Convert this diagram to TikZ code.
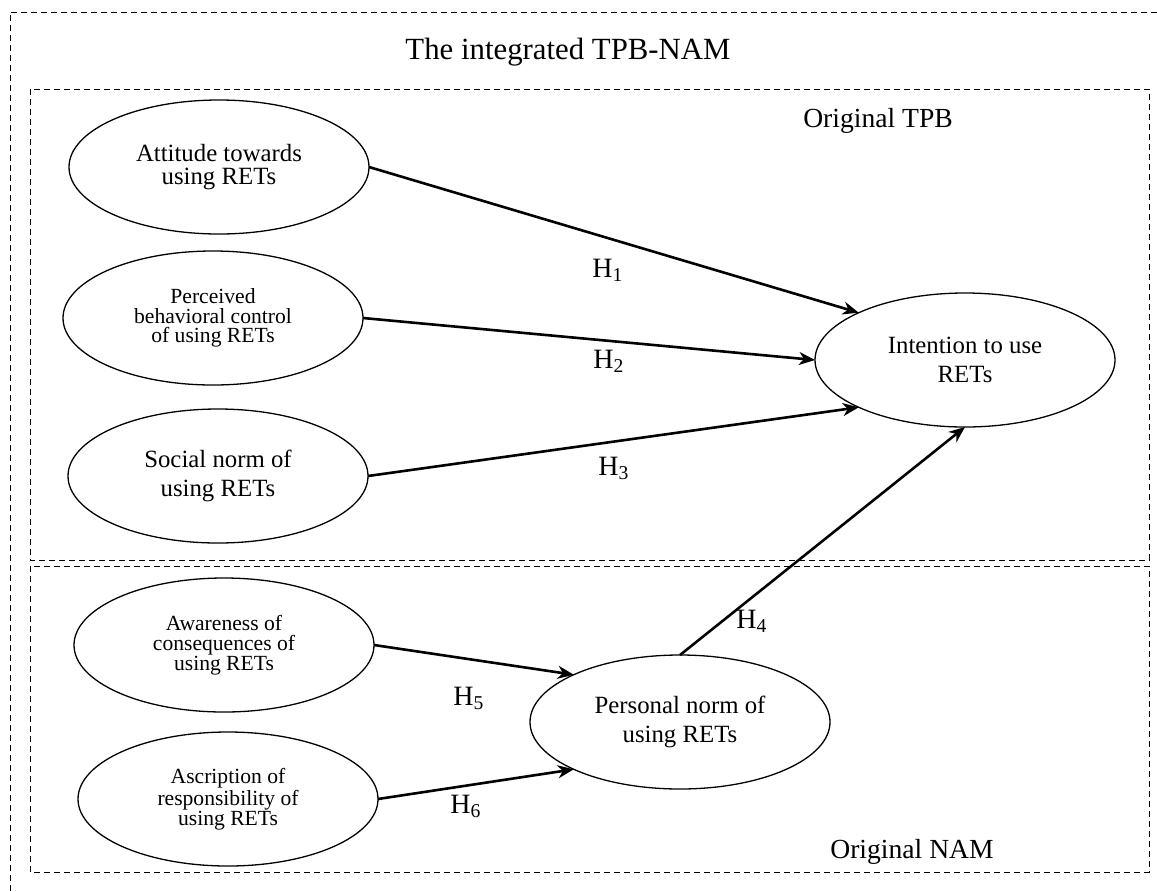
\documentclass[tikz,border=0pt]{standalone}
\usepackage{fontspec}
\setmainfont{Liberation Serif}
\usetikzlibrary{shapes.geometric,arrows.meta}

\begin{document}
\begin{tikzpicture}[x=0.5pt,y=-0.5pt,
  every node/.style={inner sep=0pt},
  box/.style={dash pattern=on 3pt off 2pt,line width=0.5pt},
  bubble/.style={draw,ellipse,line width=0.65pt,minimum width=150pt,minimum height=67pt,
    align=center,outer sep=0pt,font=\fontsize{12.4}{14.2}\selectfont},
  small/.style={font=\fontsize{10.8}{9.9}\selectfont},
  link/.style={line width=1.3pt,-{Stealth[length=8pt,width=6.5pt,inset=2.5pt]}},
  hyp/.style={font=\fontsize{14}{14}\selectfont,anchor=base},
  heading/.style={font=\fontsize{13.8}{14}\selectfont,anchor=base}]
\useasboundingbox (0,0) rectangle (1157,891);
% frames
\draw[box] (1157,12) -- (10,12) -- (10,891);
\draw[box] (30,89) rectangle (1149,560);
\draw[box] (30,566) rectangle (1149,872);
\node[font=\fontsize{15.4}{16}\selectfont,anchor=base] (title) at (568,59) {The integrated TPB-NAM};
\node[heading] (tpb) at (878,127) {Original TPB};
\node[heading] (nam) at (912,858) {Original NAM};
% constructs
\node[bubble,font=\fontsize{12.4}{11.4}\selectfont] (att) at (219,167) {Attitude towards\\using RETs};
\node[bubble,small] (pbc) at (213,318) {Perceived\\behavioral control\\of using RETs};
\node[bubble] (sn) at (218,476) {Social norm of\\using RETs};
\node[bubble] (int) at (965,360) {Intention to use\\RETs};
\node[bubble,small] (ac) at (224,645) {Awareness of\\consequences of\\using RETs};
\node[bubble,small] (ar) at (228,799) {Ascription of\\responsibility of\\using RETs};
\node[bubble] (pn) at (680,722) {Personal norm of\\using RETs};
% hypotheses
\draw[link] (att.east) -- (int.156);
\draw[link] (pbc.east) -- (int.west);
\draw[link] (sn.east) -- (int.204);
\draw[link] (pn.north) -- (int.south);
\draw[link] (ac.east) -- (pn.156);
\draw[link] (ar.east) -- (pn.204);
\node[hyp] (h1) at (608,277) {H\textsubscript{1}};
\node[hyp] (h2) at (609,368) {H\textsubscript{2}};
\node[hyp] (h3) at (614,475) {H\textsubscript{3}};
\node[hyp] (h4) at (752,628) {H\textsubscript{4}};
\node[hyp] (h5) at (469,705) {H\textsubscript{5}};
\node[hyp] (h6) at (466,813) {H\textsubscript{6}};
\end{tikzpicture}
\end{document}
